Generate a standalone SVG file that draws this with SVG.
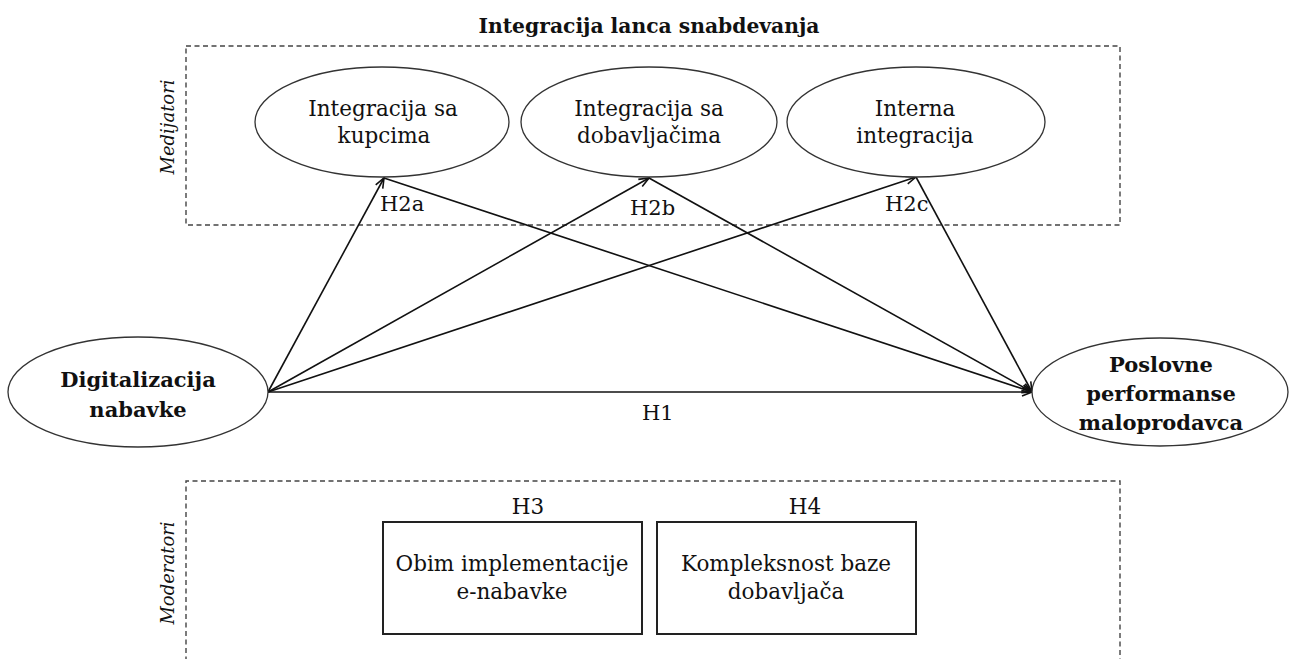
<svg xmlns="http://www.w3.org/2000/svg" width="1290" height="659" viewBox="0 0 1290 659">
  <style>
    text { font-family: "Palatino Linotype", "Book Antiqua", "DejaVu Serif", "Liberation Serif", serif; fill: #111; }
    .c { text-anchor: middle; font-size: 21.5px; }
    .b { font-weight: bold; font-size: 21px; }
    .side { text-anchor: middle; font-size: 18px; font-style: italic; }
    .hyp { font-size: 21px; }
    .title { text-anchor: middle; font-size: 20.3px; font-weight: bold; }
    .node ellipse { fill: #fff; stroke: #333; stroke-width: 1.3; }
    .node rect { fill: #fff; stroke: #222; stroke-width: 2; }
    .frame { fill: none; stroke: #444; stroke-width: 1.4; stroke-dasharray: 5 3.5; }
    .edge { fill: none; stroke: #111; stroke-width: 1.6; marker-end: url(#arrow); }
  </style>
  <defs>
    <marker id="arrow" viewBox="0 0 12 10" refX="11" refY="5" markerWidth="12" markerHeight="10" markerUnits="userSpaceOnUse" orient="auto">
      <path d="M1,1 L11,5 L1,9" fill="none" stroke="#111" stroke-width="1.6"/>
    </marker>
  </defs>
  <rect width="1290" height="659" fill="#fff"/>

  <!-- mediator frame -->
  <g id="mediators-frame">
    <text class="title" x="649" y="33">Integracija lanca snabdevanja</text>
    <rect class="frame" x="186" y="46" width="934" height="179"/>
    <text class="side" transform="translate(174,127) rotate(-90)">Medijatori</text>
  </g>

  <!-- moderator frame (open at the bottom) -->
  <g id="moderators-frame">
    <path class="frame" d="M186,670 V481 H1120 V670"/>
    <text class="side" transform="translate(174,573) rotate(-90)">Moderatori</text>
  </g>

  <!-- connectors -->
  <g id="connectors">
    <line class="edge" x1="268" y1="392" x2="384" y2="178"/>
    <line class="edge" x1="268" y1="392" x2="649" y2="178"/>
    <line class="edge" x1="268" y1="392" x2="916" y2="177"/>
    <line class="edge" x1="268" y1="392" x2="1032" y2="392"/>
    <line class="edge" x1="384" y1="178" x2="1032" y2="392"/>
    <line class="edge" x1="649" y1="178" x2="1032" y2="392"/>
    <line class="edge" x1="916" y1="177" x2="1032" y2="392"/>
    <text class="hyp" x="380" y="211">H2a</text>
    <text class="hyp" x="630" y="215">H2b</text>
    <text class="hyp" x="885" y="211">H2c</text>
    <text class="hyp" x="642" y="420">H1</text>
  </g>

  <g id="customers" class="node">
    <ellipse cx="382" cy="122" rx="127" ry="55"/>
    <text class="c" x="383" y="116">Integracija sa</text>
    <text class="c" x="384" y="143">kupcima</text>
  </g>

  <g id="suppliers" class="node">
    <ellipse cx="649" cy="122" rx="128" ry="55"/>
    <text class="c" x="649" y="116">Integracija sa</text>
    <text class="c" x="649" y="143">dobavljačima</text>
  </g>

  <g id="internal" class="node">
    <ellipse cx="916" cy="122" rx="129" ry="55"/>
    <text class="c" x="915" y="116">Interna</text>
    <text class="c" x="915" y="143">integracija</text>
  </g>

  <g id="digitalization" class="node">
    <ellipse cx="138" cy="392" rx="130" ry="55"/>
    <text class="c b" x="138" y="387">Digitalizacija</text>
    <text class="c b" x="138" y="417">nabavke</text>
  </g>

  <g id="performance" class="node">
    <ellipse cx="1160" cy="392" rx="128" ry="54"/>
    <text class="c b" x="1161" y="372">Poslovne</text>
    <text class="c b" x="1161" y="401">performanse</text>
    <text class="c b" x="1161" y="430">maloprodavca</text>
  </g>

  <g id="implementation" class="node">
    <rect x="383" y="522" width="259" height="112"/>
    <text class="c" x="528" y="514">H3</text>
    <text class="c" x="512" y="571">Obim implementacije</text>
    <text class="c" x="512" y="599">e-nabavke</text>
  </g>

  <g id="supplier-base" class="node">
    <rect x="657" y="522" width="259" height="112"/>
    <text class="c" x="805" y="514">H4</text>
    <text class="c" x="786" y="571">Kompleksnost baze</text>
    <text class="c" x="786" y="599">dobavljača</text>
  </g>
</svg>
